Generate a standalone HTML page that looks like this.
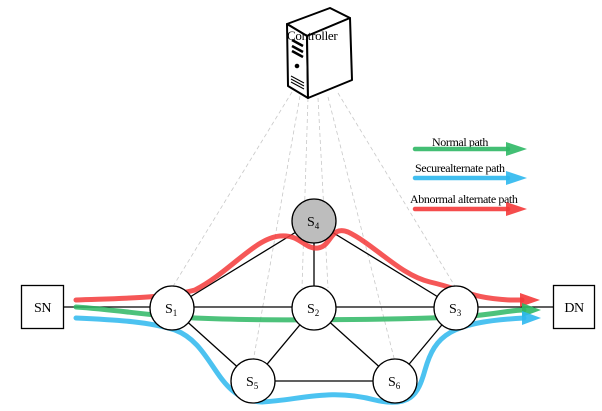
<!DOCTYPE html>
<html><head><meta charset="utf-8"><style>
html,body{margin:0;padding:0;background:#fff;}
svg{display:block;font-family:"Liberation Serif",serif;}
</style></head><body>
<svg width="602" height="411" viewBox="0 0 602 411" xmlns="http://www.w3.org/2000/svg">
<!-- dashed controller links -->
<g stroke="#c8c8c8" stroke-width="0.8" stroke-dasharray="4,3" fill="none">
<line x1="292" y1="92" x2="172" y2="288"/>
<line x1="300" y1="96" x2="253" y2="362"/>
<line x1="308" y1="98" x2="302" y2="288"/>
<line x1="318" y1="98" x2="328" y2="288"/>
<line x1="328" y1="97" x2="395" y2="362"/>
<line x1="338" y1="93" x2="456" y2="288"/>
</g>
<!-- controller icon -->
<g stroke="#000" stroke-width="2" fill="#fff" stroke-linejoin="round">
<path d="M287 24 L330 8 L350 18 L307 36 Z"/>
<path d="M287 24 L307 36 L308 98 L288 86 Z"/>
<path d="M307 36 L350 18 L352 80 L308 98 Z"/>
<path d="M292 40 L303 46 M292 46 L303 52 M292 51 L303 57" stroke-width="2.5"/>
<circle cx="297" cy="66" r="1.8" fill="#000" stroke-width="1"/>
<path d="M291 76 L304 83 M291 79 L304 86 M291 82 L304 89" stroke-width="1"/>
</g>
<text x="287" y="40" font-size="13" fill="#000" letter-spacing="-0.3">Controller</text>
<!-- edges -->
<g stroke="#000" stroke-width="1.3">
<line x1="63" y1="307" x2="553" y2="307"/>
<line x1="172" y1="308" x2="314" y2="221"/>
<line x1="314" y1="221" x2="456" y2="308"/>
<line x1="314" y1="221" x2="314" y2="308"/>
<line x1="172" y1="308" x2="253" y2="381"/>
<line x1="314" y1="308" x2="253" y2="381"/>
<line x1="314" y1="308" x2="395" y2="381"/>
<line x1="456" y1="308" x2="395" y2="381"/>
<line x1="253" y1="381" x2="395" y2="381"/>
</g>
<!-- paths -->
<g fill="none" stroke-width="5" stroke-linecap="round" opacity="0.85">
<path d="M76 300 C130 298 165 298 195 290 C230 272 255 238 280 236 C300 234 305 250 318 248 C332 246 330 225 348 232 C375 245 400 275 430 282 C465 290 470 298 510 300 L522 300" stroke="#f43a3a"/>
<path d="M76 307 C120 310 150 316 195 318 C260 321 380 320 460 317 C500 314 510 310 524 310" stroke="#2fb865"/>
<path d="M76 318 C120 320 150 322 175 330 C215 345 215 400 262 402 C300 400 330 388 375 400 C410 408 418 395 425 370 C435 335 450 322 524 318" stroke="#2db8ee"/>
</g>
<path d="M520 293 L540 300 L520 307Z" fill="#f43a3a" opacity="0.9"/>
<path d="M522 303 L541 310 L522 317Z" fill="#2fb865" opacity="0.9"/>
<path d="M522 311 L541 318 L522 325Z" fill="#2db8ee" opacity="0.9"/>
<!-- boxes -->
<rect x="21.5" y="285.5" width="42" height="43" fill="#fff" stroke="#000" stroke-width="1.3"/>
<text x="42.5" y="312" font-size="14" text-anchor="middle" letter-spacing="-0.5">SN</text>
<rect x="553.5" y="285.5" width="41" height="43" fill="#fff" stroke="#000" stroke-width="1.3"/>
<text x="574" y="312" font-size="14" text-anchor="middle" letter-spacing="-0.5">DN</text>
<!-- nodes -->
<g stroke="#000" stroke-width="1.3">
<circle cx="172" cy="308" r="22" fill="#fff"/>
<circle cx="314" cy="308" r="22" fill="#fff"/>
<circle cx="456" cy="308" r="22" fill="#fff"/>
<circle cx="314" cy="221" r="22" fill="#bdbdbd"/>
<circle cx="253" cy="381" r="22" fill="#fff"/>
<circle cx="395" cy="381" r="22" fill="#fff"/>
</g>
<g font-size="14">
<text x="165" y="313">S<tspan font-size="9" dy="3">1</tspan></text>
<text x="307" y="313">S<tspan font-size="9" dy="3">2</tspan></text>
<text x="449" y="313">S<tspan font-size="9" dy="3">3</tspan></text>
<text x="307" y="226">S<tspan font-size="9" dy="3">4</tspan></text>
<text x="246" y="386">S<tspan font-size="9" dy="3">5</tspan></text>
<text x="388" y="386">S<tspan font-size="9" dy="3">6</tspan></text>
</g>
<!-- legend -->
<g font-size="12" letter-spacing="-0.4">
<text x="432" y="146">Normal path</text>
<text x="415" y="172">Securealternate path</text>
<text x="410" y="203">Abnormal alternate path</text>
</g>
<g stroke-width="4.5" stroke-linecap="round" opacity="0.9">
<line x1="415" y1="149" x2="508" y2="149" stroke="#2fb865"/>
<line x1="415" y1="178" x2="508" y2="178" stroke="#2db8ee"/>
<line x1="415" y1="209" x2="508" y2="209" stroke="#f43a3a"/>
</g>
<path d="M506 142 L527 149 L506 156Z" fill="#2fb865" opacity="0.9"/>
<path d="M506 171 L527 178 L506 185Z" fill="#2db8ee" opacity="0.9"/>
<path d="M506 202 L527 209 L506 216Z" fill="#f43a3a" opacity="0.9"/>
</svg>
</body></html>
